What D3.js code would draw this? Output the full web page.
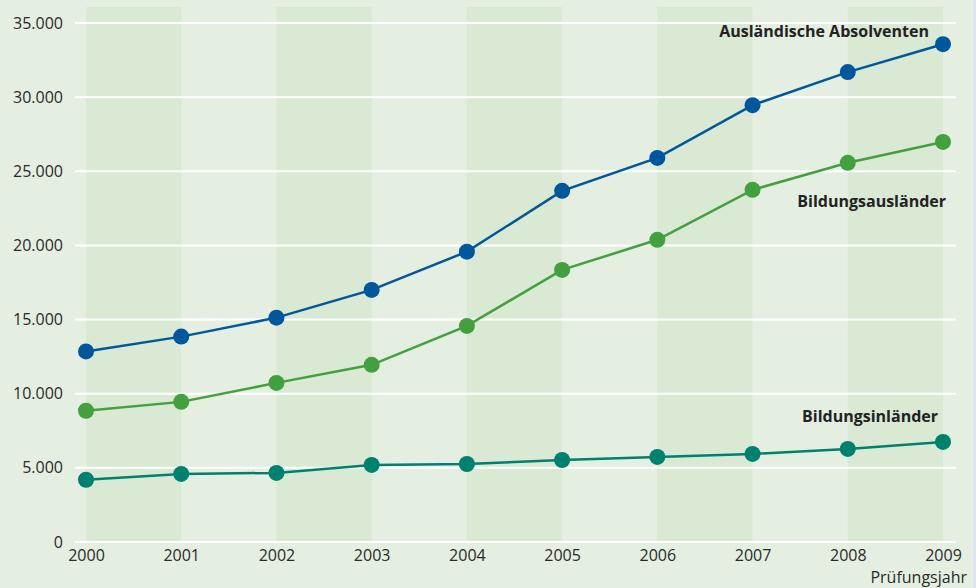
<!DOCTYPE html>
<html><head><meta charset="utf-8">
<script src="https://cdn.jsdelivr.net/npm/d3@7"></script>
<style>
html,body{margin:0;padding:0;background:#e4efe1;}
svg{display:block;}
</style></head>
<body>
<svg id="c" width="976" height="588"></svg>
<script>
const years = [2000,2001,2002,2003,2004,2005,2006,2007,2008,2009];
const auslaendischeAbsolventen = [12850,13850,15130,17000,19580,23680,25900,29460,31690,33570];
const bildungsauslaender = [8850,9450,10730,11950,14570,18350,20380,23750,25570,26980];
const bildungsinlaender = [4200,4590,4660,5200,5260,5530,5740,5940,6280,6750];
const yTicks = [0,5000,10000,15000,20000,25000,30000,35000];
const seriesNames = ["Ausländische Absolventen","Bildungsausländer","Bildungsinländer"];
const xAxisTitle = "Prüfungsjahr";

const series = [
  {name: seriesNames[0], values: auslaendischeAbsolventen, color: "#00579b"},
  {name: seriesNames[1], values: bildungsauslaender, color: "#43a03e"},
  {name: seriesNames[2], values: bildungsinlaender, color: "#00806f"}
];

const svg = d3.select("#c");
const W = 976, H = 588;
svg.append("rect").attr("width", W).attr("height", H).attr("fill", "#e4efe1");
svg.append("rect").attr("x", 973).attr("width", 3).attr("height", H).attr("fill", "#dfe4f1");

const x = d3.scaleLinear().domain([2000, 2009]).range([86, 943]);
const y = d3.scaleLinear().domain([0, 35000]).range([542, 23]);
const font = "'Open Sans', 'Noto Sans', sans-serif";

// shaded bands
const bandStarts = years.filter((d,i) => i % 2 === 0);
svg.append("g").selectAll("rect").data(bandStarts).join("rect")
  .attr("x", d => x(d)).attr("width", d => x(d+1) - x(d))
  .attr("y", 7).attr("height", y(0) - 7)
  .attr("fill", "#d9e9d4");

// grid lines
svg.append("g").selectAll("line").data(yTicks).join("line")
  .attr("x1", 75).attr("x2", 956)
  .attr("y1", d => y(d)).attr("y2", d => y(d))
  .attr("stroke", "#ffffff").attr("stroke-width", 2);

// y axis
const fmt = d => d === 0 ? "0" : d3.format(",")(d).replace(/,/g, ".");
const yAxis = d3.axisLeft(y).tickValues(yTicks).tickFormat(fmt).tickSize(0).tickPadding(0);
const ya = svg.append("g").attr("transform", "translate(63,0)").call(yAxis);
ya.select(".domain").remove();
ya.selectAll("text").attr("font-family", font).attr("font-size", 16).attr("fill", "#2a2a2a");

// x axis
const xAxis = d3.axisBottom(x).tickValues(years).tickFormat(d3.format("d")).tickSize(0).tickPadding(0);
const xa = svg.append("g").attr("transform", "translate(0,550)").call(xAxis);
xa.select(".domain").remove();
xa.selectAll("text").attr("font-family", font).attr("font-size", 16).attr("fill", "#2a2a2a");

svg.append("text").attr("x", 967).attr("y", 583).attr("text-anchor", "end")
  .attr("font-family", font).attr("font-size", 16).attr("fill", "#2a2a2a").text(xAxisTitle);

// lines and dots
const line = d3.line().x((d,i) => x(years[i])).y(d => y(d));
series.forEach(s => {
  svg.append("path").datum(s.values).attr("d", line)
    .attr("fill", "none").attr("stroke", s.color).attr("stroke-width", 2.5);
  svg.append("g").selectAll("circle").data(s.values).join("circle")
    .attr("cx", (d,i) => x(years[i])).attr("cy", d => y(d)).attr("r", 8)
    .attr("fill", s.color);
});

// labels
const labelPos = [
  {x: 929, y: 37},
  {x: 946, y: 207},
  {x: 938, y: 422}
];
series.forEach((s, i) => {
  svg.append("text").attr("x", labelPos[i].x).attr("y", labelPos[i].y)
    .attr("text-anchor", "end").attr("font-family", font).attr("font-weight", "bold")
    .attr("font-size", 16).attr("fill", "#222").text(s.name);
});
</script>
</body></html>
